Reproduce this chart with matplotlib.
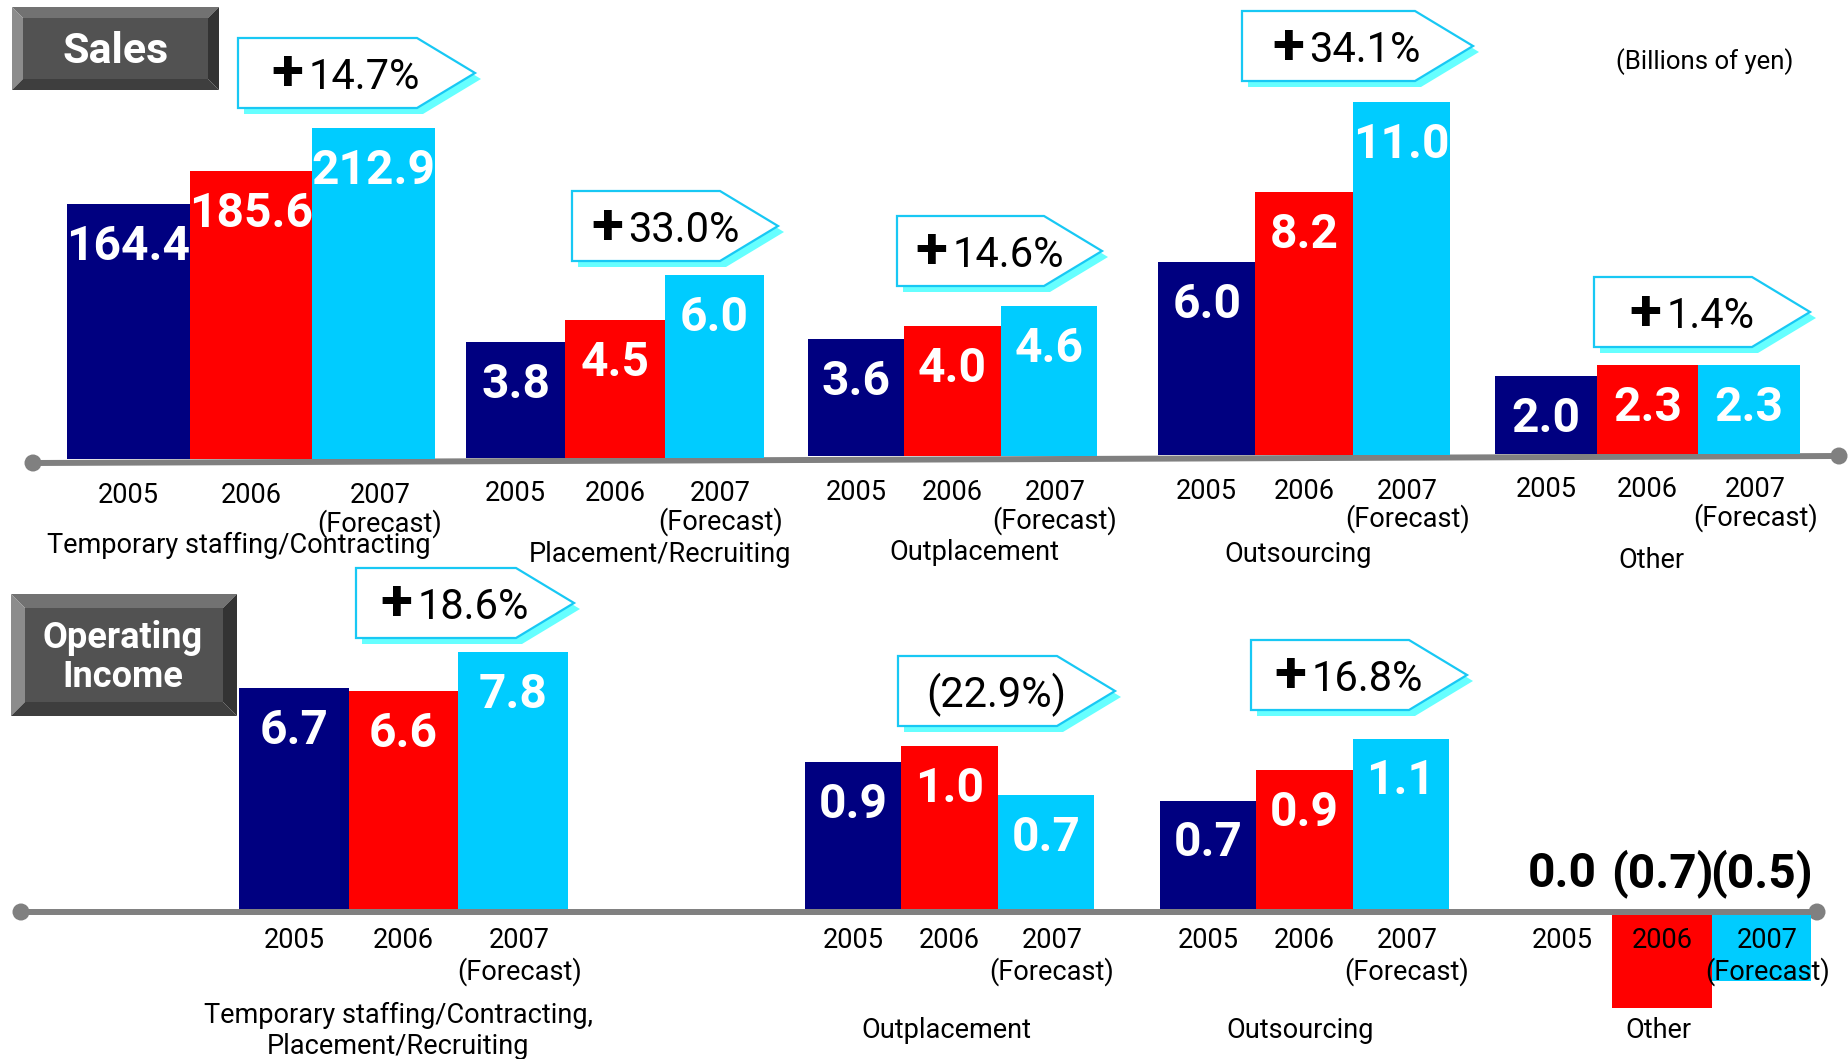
import matplotlib
matplotlib.use("Agg")
import matplotlib.pyplot as plt
from matplotlib.patches import Polygon, Circle
from matplotlib.lines import Line2D
from matplotlib.transforms import blended_transform_factory

W, H, DPI = 1849, 1059, 100
FONT = "Roboto"

# ---- data (billions of yen) ----
years = ["2005", "2006", "2007"]
forecast_note = "(Forecast)"
bar_colors = ["#000080", "#ff0000", "#00ccff"]

sales_categories = ["Temporary staffing/Contracting", "Placement/Recruiting",
                    "Outplacement", "Outsourcing", "Other"]
sales_temp_staffing = [164.4, 185.6, 212.9]
sales_placement = [3.8, 4.5, 6.0]
sales_outplacement = [3.6, 4.0, 4.6]
sales_outsourcing = [6.0, 8.2, 11.0]
sales_other = [2.0, 2.3, 2.3]
sales_growth = ["+14.7%", "+33.0%", "+14.6%", "+34.1%", "+1.4%"]

income_categories = ["Temporary staffing/Contracting,\nPlacement/Recruiting",
                     "Outplacement", "Outsourcing", "Other"]
income_staffing_placement = [6.7, 6.6, 7.8]
income_outplacement = [0.9, 1.0, 0.7]
income_outsourcing = [0.7, 0.9, 1.1]
income_other = [0.0, -0.7, -0.5]
income_growth = ["+18.6%", "(22.9%)", "+16.8%"]

unit_note = "(Billions of yen)"

# ---- figure and a pixel-space canvas for decorations ----
fig = plt.figure(figsize=(W / DPI, H / DPI), dpi=DPI)
canvas = fig.add_axes([0, 0, 1, 1], zorder=0)
canvas.set_xlim(0, W)
canvas.set_ylim(H, 0)
canvas.axis("off")
renderer = fig.canvas.get_renderer()

LABEL_SIZE = 19.5
VALUE_SIZE = 34.5


def fmt(v):
    return f"({abs(v):.1f})" if v < 0 else f"{v:.1f}"


def bar_group(values, left, bw, base, scale, year_y, note_y, label_y=None, down=170):
    """One segment: three adjacent bars with its own vertical scale."""
    up = base - 5
    ax = fig.add_axes([left / W, 1 - (base + down) / H, 3 * bw / W, (up + down) / H], zorder=1)
    ax.set_xlim(-0.5, 2.5)
    ax.set_ylim(-down / scale, up / scale)
    ax.axis("off")
    ax.patch.set_alpha(0)
    ax.bar(range(3), values, width=1.0, color=bar_colors, linewidth=0)
    mix = blended_transform_factory(ax.transData, canvas.transData)
    for i, (yr, v) in enumerate(zip(years, values)):
        dx = 6 / bw if i == 2 else 0
        ax.text(i + dx, year_y, yr, transform=mix, ha="center", va="center",
                fontsize=LABEL_SIZE, family=FONT, color="black", zorder=5)
        if i == 2:
            ax.text(i + dx, note_y, forecast_note, transform=mix, ha="center", va="center",
                    fontsize=LABEL_SIZE, family=FONT, color="black", zorder=5)
        if v > 0:
            ax.annotate(fmt(v), (i, v), xytext=(0, -43), textcoords="offset pixels",
                        ha="center", va="center", fontsize=VALUE_SIZE, fontweight="bold",
                        family=FONT, color="white", annotation_clip=False, zorder=5)
        else:
            ax.text(i, label_y, fmt(v), transform=mix, ha="center", va="center",
                    fontsize=VALUE_SIZE, fontweight="bold", family=FONT, color="black", zorder=5)
    return ax


def callout(x0, y0, w, text, h=70, tip=58):
    xr = x0 + w - tip
    pts = [(x0, y0), (xr, y0), (x0 + w, y0 + h / 2), (xr, y0 + h), (x0, y0 + h)]
    shadow = [(x + 6, y + 6) for x, y in pts]
    canvas.add_patch(Polygon(shadow, closed=True, facecolor="#66ffff", edgecolor="none"))
    canvas.add_patch(Polygon(pts, closed=True, facecolor="white", edgecolor="#18c8f4",
                             linewidth=1.6, joinstyle="miter"))
    cx = x0 + 0.455 * w
    base = y0 + 51
    if text.startswith("+"):
        num = canvas.text(0, base, text[1:], ha="left", va="baseline",
                          fontsize=30, family=FONT, color="black")
        nw = num.get_window_extent(renderer).width
        plus_w, gap = 30, 6
        start = cx - (plus_w + gap + nw) / 2
        num.set_x(start + plus_w + gap)
        canvas.text(start + plus_w / 2, y0 + h / 2 + 2, "+", ha="center", va="center",
                    fontsize=42, fontweight="bold", family=FONT, color="black")
    else:
        canvas.text(cx, base, text, ha="center", va="baseline",
                    fontsize=30, family=FONT, color="black")


def bevel_box(x0, y0, x1, y1, b, lines, baselines, size, cx):
    canvas.add_patch(Polygon([(x0, y0), (x1, y0), (x1 - b, y0 + b), (x0 + b, y0 + b)],
                             facecolor="#727272", edgecolor="none"))
    canvas.add_patch(Polygon([(x0, y0), (x0 + b, y0 + b), (x0 + b, y1 - b), (x0, y1)],
                             facecolor="#8c8c8c", edgecolor="none"))
    canvas.add_patch(Polygon([(x1, y0), (x1, y1), (x1 - b, y1 - b), (x1 - b, y0 + b)],
                             facecolor="#333333", edgecolor="none"))
    canvas.add_patch(Polygon([(x0, y1), (x0 + b, y1 - b), (x1 - b, y1 - b), (x1, y1)],
                             facecolor="#3e3e3e", edgecolor="none"))
    canvas.add_patch(Polygon([(x0 + b, y0 + b), (x1 - b, y0 + b), (x1 - b, y1 - b), (x0 + b, y1 - b)],
                             facecolor="#525252", edgecolor="none"))
    for t, yb in zip(lines, baselines):
        canvas.text(cx, yb, t, ha="center", va="baseline", fontsize=size,
                    fontweight="bold", family=FONT, color="white")


def axis_line(p0, p1):
    canvas.add_line(Line2D([p0[0], p1[0]], [p0[1], p1[1]], color="#808080",
                           linewidth=4.3, solid_capstyle="butt", zorder=1))
    for p in (p0, p1):
        canvas.add_patch(Circle(p, 8.5, facecolor="#808080", edgecolor="none", zorder=2))


# ---- Sales panel ----
top_p0, top_p1 = (33, 463), (1839, 456)


def top_base(x):
    return top_p0[1] + (top_p1[1] - top_p0[1]) * (x - top_p0[0]) / (top_p1[0] - top_p0[0]) - 3


axis_line(top_p0, top_p1)

sales_values = [sales_temp_staffing, sales_placement, sales_outplacement,
                sales_outsourcing, sales_other]
sales_layout = [(67, 122.7, 1.555), (466, 99.3, 30.5), (808, 96.3, 32.6),
                (1158, 97.3, 32.1), (1495, 101.7, 38.8)]
for vals, (left, bw, scale) in zip(sales_values, sales_layout):
    base = top_base(left + 1.5 * bw)
    bar_group(vals, left, bw, base, scale, base + 36, base + 64)

sales_cat_pos = [(239, 545), (660, 554), (974, 552), (1298, 554), (1651, 561)]
for name, (x, y) in zip(sales_categories, sales_cat_pos):
    canvas.text(x, y, name, ha="center", va="center", fontsize=LABEL_SIZE, family=FONT,
                color="black")

sales_callouts = [(238, 38, 237), (572, 191, 206), (897, 216, 205), (1242, 11, 231), (1594, 277, 216)]
for txt, (x0, y0, w) in zip(sales_growth, sales_callouts):
    callout(x0, y0, w, txt)

canvas.text(1705, 62, unit_note, ha="center", va="center", fontsize=18.5, family=FONT,
            color="black")
bevel_box(12, 7, 219, 90, 11, ["Sales"], [63], 31, 115.5)

# ---- Operating income panel ----
axis_line((21, 912), (1817, 912))

income_values = [income_staffing_placement, income_outplacement, income_outsourcing, income_other]
income_layout = [(239, 109.7, 33.0, 909), (805, 96.3, 163, 909),
                 (1160, 96.3, 155, 909), (1513, 99.3, 133, 915)]
for vals, (left, bw, scale, base) in zip(income_values, income_layout):
    bar_group(vals, left, bw, base, scale, 940, 972, label_y=874, down=160)

income_cat_pos = [(398, 1031), (946, 1030), (1300, 1030), (1658, 1030)]
for name, (x, y) in zip(income_categories, income_cat_pos):
    canvas.text(x, y, name, ha="center", va="center", fontsize=LABEL_SIZE, family=FONT,
                color="black", linespacing=1.2)

income_callouts = [(356, 568, 218), (898, 656, 217), (1251, 640, 216)]
for txt, (x0, y0, w) in zip(income_growth, income_callouts):
    callout(x0, y0, w, txt)

bevel_box(11, 594, 237, 716, 14, ["Operating", "Income"], [648, 687], 26, 123)

fig.savefig("out.png", dpi=DPI)
